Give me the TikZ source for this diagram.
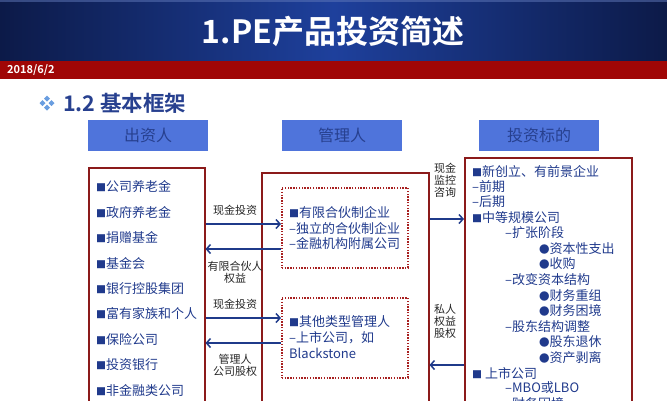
\documentclass[tikz,border=0pt]{standalone}
\usepackage{fontspec}
\setmainfont{Noto Sans CJK SC}[BoldFont={Noto Sans CJK SC Bold}]
\usetikzlibrary{arrows.meta}
\definecolor{navyd}{HTML}{0C1A48}
\definecolor{navym}{HTML}{1E409C}
\definecolor{bandred}{HTML}{A00606}
\definecolor{txtblue}{HTML}{203A8C}
\definecolor{hdrfill}{HTML}{4F74DB}
\definecolor{hdrtxt}{HTML}{27408F}
\definecolor{boxred}{HTML}{8B1A1A}
\definecolor{dotred}{HTML}{A82020}
\definecolor{arrblue}{HTML}{1F3A8A}
\definecolor{dia}{HTML}{6A9EE0}
\newcommand\sqbul{{\fontsize{10}{10}\selectfont ■}}
\newcommand\dotbul{{\fontsize{10.5}{10}\selectfont ●}}
\tikzset{
  hdr/.style={fill=hdrfill, draw=none, minimum width=120pt, minimum height=31pt, anchor=north west, inner sep=0pt, text=hdrtxt, font=\fontsize{16}{18}\selectfont},
  bigbox/.style={draw=boxred, line width=1.5pt, anchor=north west, inner sep=0pt},
  dotbox/.style={draw=dotred, dash pattern=on 1.4pt off 1.4pt, line width=1.6pt, anchor=north west, inner sep=0pt, minimum width=126pt, minimum height=80pt},
  item/.style={anchor=west, inner sep=0pt, text=txtblue, font=\fontsize{13}{15}\selectfont},
  lbl/.style={inner sep=0pt, text=black!85, font=\fontsize{11}{13.5}\selectfont, align=center},
  arr/.style={draw=arrblue, line width=1.5pt, -{Straight Barb[length=4pt,width=9pt]}}
}
\begin{document}
\begin{tikzpicture}[x=1pt,y=-1pt]
\useasboundingbox (0,0) rectangle (667,400);
\clip (0,0) rectangle (667,400);
% title band
\shade[left color=navyd, right color=navyd, middle color=navym] (0,0) rectangle (667,61);
\fill[navym!70!white, opacity=0.5] (0,0) rectangle (667,2);
\node[text=white, font=\fontsize{32}{34}\bfseries\selectfont, inner sep=0pt] (title) at (333,31) {1.PE产品投资简述};
\fill[bandred] (0,61) rectangle (667,79);
\node[anchor=west, text=white, font=\fontsize{11}{12}\bfseries\selectfont, inner sep=0pt] (date) at (7,70) {2018/6/2};
% section heading
\foreach \dx/\dy in {0/-4.5,-4.5/0,4.5/0,0/4.5}
  \fill[dia] (47+\dx,103+\dy) ++(0,-3) -- ++(3,3) -- ++(-3,3) -- ++(-3,-3) -- cycle;
\node[anchor=west, text=hdrtxt, font=\fontsize{21.5}{24}\bfseries\selectfont, inner sep=0pt] (sec) at (63,103) {1.2 基本框架};
% headers
\node[hdr] (h1) at (88,120) {出资人};
\node[hdr] (h2) at (282,120) {管理人};
\node[hdr] (h3) at (479,120) {投资标的};
% big boxes
\node[bigbox, minimum width=116pt, minimum height=260pt] (L) at (88,167) {};
\node[bigbox, minimum width=167pt, minimum height=255pt] (M) at (261,172) {};
\node[bigbox, minimum width=167pt, minimum height=270pt] (R) at (464,157) {};
% dotted boxes
\node[dotbox] (D1) at (281,187) {};
\node[dotbox] (D2) at (281,297) {};
% left list
\foreach \t [count=\i] in {公司养老金,政府养老金,捐赠基金,基金会,银行控股集团,富有家族和个人,保险公司,投资银行,非金融类公司}
  \node[item] (l\i) at (96,{187+25.4*(\i-1)}) {\sqbul\t};
% middle texts
\node[item] (m1) at (289,212) {\sqbul 有限合伙制企业};
\node[item] (m2) at (289,228) {–独立的合伙制企业};
\node[item] (m3) at (289,244) {–金融机构附属公司};
\node[item] (m4) at (289,322) {\sqbul 其他类型管理人};
\node[item] (m5) at (289,338) {–上市公司，如};
\node[item] (m6) at (289,353) {Blackstone};
% right list
\node[item] (r1) at (472,171) {\sqbul 新创立、有前景企业};
\node[item] (r2) at (472,187) {–前期};
\node[item] (r3) at (472,202) {–后期};
\node[item] (r4) at (472,218) {\sqbul 中等规模公司};
\node[item] (r5) at (505,233) {–扩张阶段};
\node[item] (r6) at (539,249) {\dotbul 资本性支出};
\node[item] (r7) at (539,264) {\dotbul 收购};
\node[item] (r8) at (505,280) {–改变资本结构};
\node[item] (r9) at (539,296) {\dotbul 财务重组};
\node[item] (r10) at (539,311) {\dotbul 财务困境};
\node[item] (r11) at (505,327) {–股东结构调整};
\node[item] (r12) at (539,342) {\dotbul 股东退休};
\node[item] (r13) at (539,358) {\dotbul 资产剥离};
\node[item] (r14) at (472,373) {\sqbul\ 上市公司};
\node[item] (r15) at (505,388) {–MBO或LBO};
\node[item] (r16) at (505,404) {–财务困境};
% arrows left
\draw[arr] (L.east |- 0,224) -- (D1.west |- 0,224);
\draw[arr] (D1.west |- 0,249) -- (L.east |- 0,249);
\draw[arr] (L.east |- 0,318) -- (D2.west |- 0,318);
\draw[arr] (D2.west |- 0,343) -- (L.east |- 0,343);
\node[lbl] (a1) at (235,210) {现金投资};
\node[lbl] (a2) at (235,272) {有限合伙人\\[-1.5pt]权益};
\node[lbl] (a3) at (235,304) {现金投资};
\node[lbl] (a4) at (235,365.5) {管理人\\[-1.5pt]公司股权};
% arrows right
\draw[arr] (M.east |- 0,219) -- (R.west |- 0,219);
\draw[arr] (R.west |- 0,365) -- (M.east |- 0,365);
\node[lbl] (a5) at (445,180.5) {现金\\[-1.5pt]监控\\[-1.5pt]咨询};
\node[lbl] (a6) at (445,321.5) {私人\\[-1.5pt]权益\\[-1.5pt]股权};
\end{tikzpicture}
\end{document}
